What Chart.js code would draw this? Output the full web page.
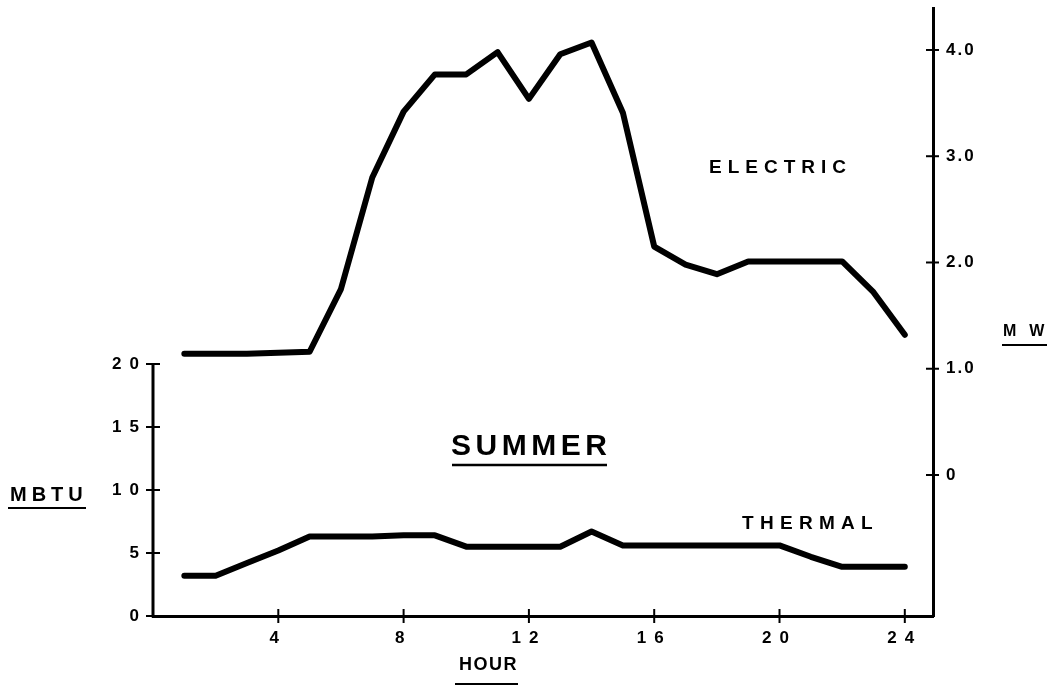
<!DOCTYPE html>
<html><head><meta charset="utf-8">
<script src="https://cdn.jsdelivr.net/npm/chart.js@4.4.0/dist/chart.umd.min.js"></script>
<style>html,body{margin:0;padding:0;background:#fff}#wrap{width:1052px;height:690px}</style>
</head><body><div id="wrap"><canvas id="c" width="1052" height="690"></canvas></div>
<script>
const hours = [1,2,3,4,5,6,7,8,9,10,11,12,13,14,15,16,17,18,19,20,21,22,23,24];
const electricMW = [1.14,1.14,1.14,1.15,1.16,1.75,2.80,3.42,3.77,3.77,3.98,3.54,3.96,4.07,3.41,2.15,1.98,1.89,2.01,2.01,2.01,2.01,1.72,1.32];
const thermalMBTU = [3.2,3.2,4.2,5.2,6.3,6.3,6.3,6.4,6.4,5.5,5.5,5.5,5.5,6.7,5.6,5.6,5.6,5.6,5.6,5.6,4.7,3.9,3.9,3.9];
const hourTicks = [4,8,12,16,20,24];
const mbtuTicks = [0,5,10,15,20];
const mwTicks = [0,1,2,3,4];
const mwTickLabels = ['0','1.0','2.0','3.0','4.0'];

const FONT = '"Liberation Sans", Arial, sans-serif';

function spacedText(ctx, txt, x, y, size, spacing, weight) {
  ctx.save();
  ctx.font = (weight || 'bold') + ' ' + size + 'px ' + FONT;
  ctx.letterSpacing = spacing + 'px';
  ctx.fillStyle = '#000';
  ctx.textAlign = 'left';
  ctx.textBaseline = 'middle';
  ctx.fillText(txt, x, y);
  ctx.restore();
}
function line(ctx, x1, y1, x2, y2, w) {
  ctx.save();
  ctx.strokeStyle = '#000';
  ctx.lineWidth = w;
  ctx.lineCap = 'butt';
  ctx.beginPath(); ctx.moveTo(x1, y1); ctx.lineTo(x2, y2); ctx.stroke();
  ctx.restore();
}
function zeroPad(s) { s.paddingTop = 0; s.paddingBottom = 0; s.paddingLeft = 0; s.paddingRight = 0; }
function spacedLabels(scale, sp) {
  if (scale._spacedWrapped) return;
  scale._spacedWrapped = true;
  const orig = scale.drawLabels.bind(scale);
  scale.drawLabels = function (area) {
    const ctx = this.ctx;
    const prev = ctx.letterSpacing;
    ctx.letterSpacing = sp + 'px';
    orig(area);
    ctx.letterSpacing = prev;
  };
}

const decor = {
  id: 'decor',
  afterUpdate(chart) {
    spacedLabels(chart.scales.x, 8);
    spacedLabels(chart.scales.yL, 8);
    spacedLabels(chart.scales.yR, 2);
  },
  afterDraw(chart) {
    const ctx = chart.ctx;
    const a = chart.chartArea;
    const yL = chart.scales.yL, yR = chart.scales.yR, x = chart.scales.x;
    line(ctx, a.left, yL.getPixelForValue(0) + 1.5, a.left, yL.getPixelForValue(20), 3);
    mbtuTicks.forEach(v => { const p = yL.getPixelForValue(v); line(ctx, a.left - 7, p, a.left + 7, p, 2); });
    mwTicks.forEach(v => { const p = yR.getPixelForValue(v); line(ctx, a.right - 7, p, a.right + 6, p, 2); });
    hourTicks.forEach(v => { const p = x.getPixelForValue(v); line(ctx, p, a.bottom - 7, p, a.bottom + 7, 2); });
    spacedText(ctx, 'MBTU', 10, 495, 20, 5);
    line(ctx, 8, 508, 86, 508, 2);
    spacedText(ctx, 'MW', 1003, 332, 16, 13);
    line(ctx, 1002, 345, 1047, 345, 2);
    spacedText(ctx, 'HOUR', 459, 665, 18, 1.5);
    line(ctx, 455, 684, 518, 684, 2);
    spacedText(ctx, 'SUMMER', 451, 447, 30, 4.5);
    line(ctx, 452, 465, 607, 465, 2.5);
    spacedText(ctx, 'ELECTRIC', 709, 168, 19, 6);
    spacedText(ctx, 'THERMAL', 742, 524, 19, 6.3);
  }
};

const tickFont = { family: FONT, size: 17, weight: 'bold' };

new Chart(document.getElementById('c'), {
  type: 'line',
  data: {
    datasets: [
      { label: 'ELECTRIC', data: hours.map((h, i) => ({ x: h, y: electricMW[i] })), yAxisID: 'yR',
        borderColor: '#000', borderWidth: 6, pointRadius: 0, tension: 0, fill: false,
        borderJoinStyle: 'round', borderCapStyle: 'round' },
      { label: 'THERMAL', data: hours.map((h, i) => ({ x: h, y: thermalMBTU[i] })), yAxisID: 'yL',
        borderColor: '#000', borderWidth: 6, pointRadius: 0, tension: 0, fill: false,
        borderJoinStyle: 'round', borderCapStyle: 'round' }
    ]
  },
  options: {
    responsive: false,
    animation: false,
    devicePixelRatio: 1,
    layout: { padding: { top: 8, left: 0, right: 0, bottom: 0 } },
    plugins: { legend: { display: false }, tooltip: { enabled: false }, title: { display: false } },
    scales: {
      x: {
        type: 'linear', position: 'bottom', min: 0, max: 24.9,
        afterFit(s) { s.height = 74; zeroPad(s); },
        afterBuildTicks(s) { s.ticks = hourTicks.map(v => ({ value: v })); },
        grid: { display: false, drawTicks: false },
        border: { display: true, color: '#000', width: 3 },
        ticks: { color: '#000', font: tickFont, padding: 12, maxRotation: 0, autoSkip: false }
      },
      yL: {
        type: 'linear', position: 'left', min: 0, max: 48.25,
        afterFit(s) { s.width = 153; zeroPad(s); },
        afterBuildTicks(s) { s.ticks = mbtuTicks.map(v => ({ value: v })); },
        grid: { display: false, drawTicks: false },
        border: { display: false },
        ticks: { color: '#000', font: tickFont, padding: 6, autoSkip: false }
      },
      yR: {
        type: 'linear', position: 'right', min: -1.327, max: 4.395,
        afterFit(s) { s.width = 119; zeroPad(s); },
        afterBuildTicks(s) { s.ticks = mwTicks.map(v => ({ value: v })); },
        grid: { display: false, drawTicks: false },
        border: { display: true, color: '#000', width: 3 },
        ticks: { color: '#000', font: tickFont, padding: 13, autoSkip: false,
          callback(v) { const i = mwTicks.indexOf(v); return i >= 0 ? mwTickLabels[i] : ''; } }
      }
    }
  },
  plugins: [decor]
});
</script>
</body></html>
